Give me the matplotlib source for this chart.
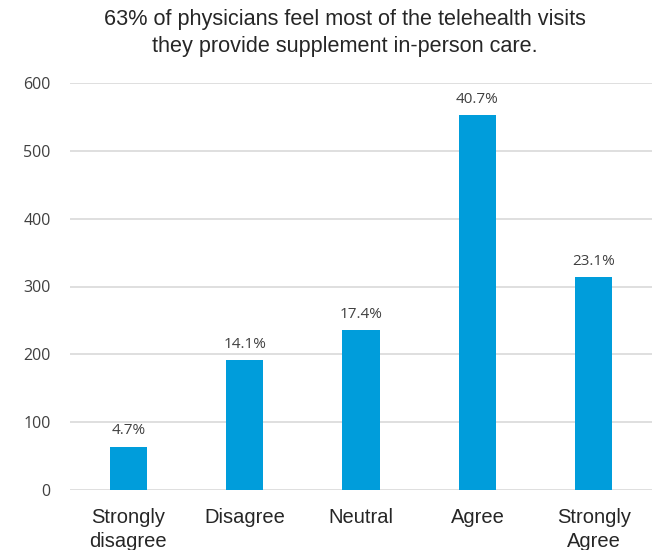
import matplotlib
matplotlib.use("Agg")
import matplotlib.pyplot as plt
from matplotlib import font_manager

categories = ["Strongly\ndisagree", "Disagree", "Neutral", "Agree", "Strongly\nAgree"]
counts = [64, 192, 236, 553, 314]
pct_labels = ["4.7%", "14.1%", "17.4%", "40.7%", "23.1%"]
yticks = [0, 100, 200, 300, 400, 500, 600]
title = "63% of physicians feel most of the telehealth visits\nthey provide supplement in-person care."

names = {f.name for f in font_manager.fontManager.ttflist}
narrow = "Liberation Sans Narrow" if "Liberation Sans Narrow" in names else "Liberation Sans"

fig = plt.figure(figsize=(6.53, 5.5), dpi=100)
ax = fig.add_axes([70/653, 60/550, 582/653, 407/550])

x = list(range(len(categories)))
bars = ax.bar(x, counts, width=0.32, color="#009ddb", zorder=3)
for xi, v, lab in zip(x, counts, pct_labels):
    ax.text(xi, v + 12, lab, ha="center", va="bottom", fontsize=11,
            family="Open Sans", color="#404040")

ax.set_xlim(-0.5, len(categories) - 0.5)
ax.set_ylim(0, 600)
ax.set_yticks(yticks)
ax.set_yticklabels([str(t) for t in yticks], family="Open Sans", fontsize=11.5, color="#404040")
ax.set_xticks(x)
ax.set_xticklabels(categories, family=narrow, fontsize=14.5, color="#262626", linespacing=1.3)
ax.tick_params(axis="both", length=0)
ax.tick_params(axis="y", pad=14)
ax.tick_params(axis="x", pad=13)
ax.grid(axis="y", color="#d9d9d9", linewidth=1.2, zorder=0)
ax.set_axisbelow(True)
for s in ax.spines.values():
    s.set_visible(False)

fig.text(345/653, 1 - 9/550, title, ha="center", va="top", fontsize=15.6,
         family="Liberation Sans", color="#262626", linespacing=1.4)

fig.savefig("out.png", dpi=100)
